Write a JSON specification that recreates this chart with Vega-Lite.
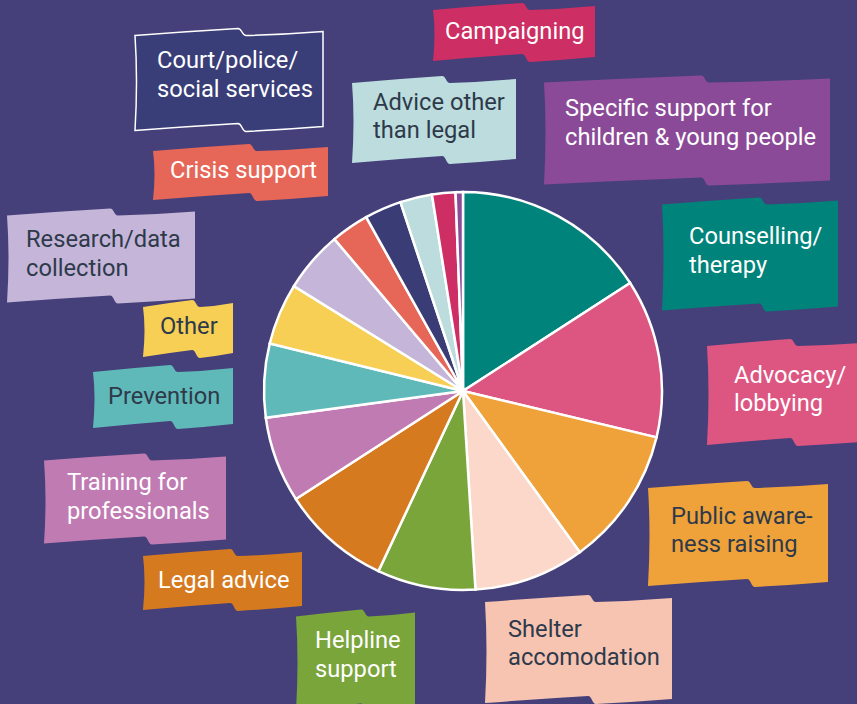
{
  "$schema": "https://vega.github.io/schema/vega-lite/v6.json",
  "width": 788,
  "height": 626,
  "autosize": {"type": "none"},
  "padding": {"left": 69, "top": 78, "right": 0, "bottom": 0},
  "background": "#45407a",
  "config": {"view": {"stroke": null}},
  "data": {
    "values": [
      {"order": 1, "service": "Counselling/therapy", "label": "Counselling/\ntherapy", "value": 15.9},
      {"order": 2, "service": "Advocacy/lobbying", "label": "Advocacy/\nlobbying", "value": 12.9},
      {"order": 3, "service": "Public awareness raising", "label": "Public aware-\nness raising", "value": 11.3},
      {"order": 4, "service": "Shelter accomodation", "label": "Shelter\naccomodation", "value": 9.0},
      {"order": 5, "service": "Helpline support", "label": "Helpline\nsupport", "value": 8.0},
      {"order": 6, "service": "Legal advice", "label": "Legal advice", "value": 8.9},
      {"order": 7, "service": "Training for professionals", "label": "Training for\nprofessionals", "value": 7.0},
      {"order": 8, "service": "Prevention", "label": "Prevention", "value": 6.0},
      {"order": 9, "service": "Other", "label": "Other", "value": 5.0},
      {"order": 10, "service": "Research/data collection", "label": "Research/data\ncollection", "value": 5.0},
      {"order": 11, "service": "Crisis support", "label": "Crisis support", "value": 3.1},
      {"order": 12, "service": "Court/police/social services", "label": "Court/police/\nsocial services", "value": 3.0},
      {"order": 13, "service": "Advice other than legal", "label": "Advice other\nthan legal", "value": 2.6},
      {"order": 14, "service": "Campaigning", "label": "Campaigning", "value": 1.9},
      {"order": 15, "service": "Specific support for children & young people", "label": "Specific support for\nchildren & young people", "value": 0.6}
    ]
  },
  "layer": [
    {
      "mark": {"type": "arc", "radius": 199, "stroke": "#ffffff", "strokeWidth": 2.5},
      "encoding": {
        "theta": {"field": "value", "type": "quantitative", "stack": true},
        "order": {"field": "order", "type": "quantitative", "sort": "ascending"},
        "color": {
          "field": "service", "type": "nominal", "legend": null,
          "scale": {
            "domain": ["Counselling/therapy", "Advocacy/lobbying", "Public awareness raising", "Shelter accomodation", "Helpline support", "Legal advice", "Training for professionals", "Prevention", "Other", "Research/data collection", "Crisis support", "Court/police/social services", "Advice other than legal", "Campaigning", "Specific support for children & young people"],
            "range": ["#00837a", "#dd5682", "#f0a23a", "#fcd8cb", "#7aa53b", "#d67a1f", "#c07bb2", "#60b9b9", "#f7cf55", "#c4b5d9", "#e66757", "#3a3d75", "#bcdcdd", "#cd2e63", "#8c4b98"]
          }
        }
      }
    },
    {
      "mark": {"type": "point", "filled": true, "opacity": 1, "size": 4, "strokeWidth": 1.5},
      "encoding": {
        "x": {"field": "order", "type": "quantitative", "axis": null,
          "scale": {"zero": false, "nice": false, "domain": [1,2,3,4,5,6,7,8,9,10,11,12,13,14,15],
            "range": [620, 665, 602, 439, 246, 89, -2, 39, 91, -43, 101, 88, 304, 376, 496]}},
        "y": {"field": "order", "type": "quantitative", "axis": null,
          "scale": {"zero": false, "nice": false, "domain": [1,2,3,4,5,6,7,8,9,10,11,12,13,14,15],
            "range": [173.5, 312, 453, 566, 577.5, 503, 419.5, 319, 249, 176.5, 93, -2.5, 39, -46, 45.5]}},
        "shape": {
          "field": "service", "type": "nominal", "legend": null,
          "scale": {
            "domain": ["Counselling/therapy", "Advocacy/lobbying", "Public awareness raising", "Shelter accomodation", "Helpline support", "Legal advice", "Training for professionals", "Prevention", "Other", "Research/data collection", "Crisis support", "Court/police/social services", "Advice other than legal", "Campaigning", "Specific support for children & young people"],
            "range": [
              "M-27,-47 Q22,-51 70,-54 C74,-54 74,-47 78,-47 Q114,-48 149,-51 L149,55 Q114,58 78,60 C74,60 74,52 70,52 Q22,55 -27,59 Q-24,3 -27,-47 Z",
              "M-27,-44 Q15,-48 56,-51 C60,-51 60,-44 64,-44 Q102,-45 140,-48 L140,51 Q102,54 64,56 C60,56 60,48 56,48 Q15,51 -27,55 Q-24,3 -27,-44 Z",
              "M-23,-43 Q27,-47 76,-50 C80,-50 80,-43 84,-43 Q121,-44 157,-47 L157,51 Q121,54 84,56 C80,56 80,48 76,48 Q27,51 -23,55 Q-20,3 -23,-43 Z",
              "M-23,-42 Q29,-46 80,-49 C84,-49 84,-42 88,-42 Q126,-43 164,-46 L164,55 Q126,58 88,60 C84,60 84,52 80,52 Q29,55 -23,59 Q-20,6 -23,-42 Z",
              "M-19,-39 Q14,-43 46,-46 C50,-46 50,-39 54,-39 Q77,-40 100,-43 L100,51 Q77,54 54,56 C50,56 50,48 46,48 Q14,51 -19,55 Q-16,5 -19,-39 Z",
              "M-15,-25 Q29,-29 72,-32 C76,-32 76,-25 80,-25 Q112,-26 144,-29 L144,25 Q112,28 80,30 C76,30 76,22 72,22 Q29,25 -15,29 Q-12,-1 -15,-25 Z",
              "M-23,-37 Q27,-41 77,-44 C81,-44 81,-37 85,-37 Q122,-38 159,-41 L159,42 Q122,45 85,47 C81,47 81,39 77,39 Q27,42 -23,46 Q-20,2 -23,-37 Z",
              "M-15,-25 Q24,-29 62,-32 C66,-32 66,-25 70,-25 Q98,-26 125,-29 L125,27 Q98,30 70,32 C66,32 66,24 62,24 Q24,27 -15,31 Q-12,0 -15,-25 Z",
              "M-17,-20 Q8,-24 32,-27 C36,-27 36,-20 40,-20 Q57,-21 73,-24 L73,26 Q57,29 40,31 C36,31 36,23 32,23 Q8,26 -17,30 Q-14,2 -17,-20 Z",
              "M-19,-39 Q33,-43 84,-46 C88,-46 88,-39 92,-39 Q131,-40 169,-43 L169,44 Q131,47 92,49 C88,49 88,41 84,41 Q33,44 -19,48 Q-16,2 -19,-39 Z",
              "M-17,-20 Q31,-24 79,-27 C83,-27 83,-20 87,-20 Q123,-21 158,-24 L158,25 Q123,28 87,30 C83,30 83,22 79,22 Q31,25 -17,29 Q-14,2 -17,-20 Z",
              "M-22,-40 Q30,-44 81,-47 C85,-47 85,-40 89,-40 Q128,-41 166,-44 L166,51 Q128,54 89,56 C85,56 85,48 81,48 Q30,51 -22,55 Q-19,5 -22,-40 Z",
              "M-21,-34 Q24,-38 69,-41 C73,-41 73,-34 77,-34 Q110,-35 143,-38 L143,42 Q110,45 77,47 C73,47 73,39 69,39 Q24,42 -21,46 Q-18,3 -21,-34 Z",
              "M-12,-22 Q33,-26 77,-29 C81,-29 81,-22 85,-22 Q118,-23 150,-26 L150,25 Q118,28 85,30 C81,30 81,22 77,22 Q33,25 -12,29 Q-9,1 -12,-22 Z",
              "M-21,-41 Q58,-45 136,-48 C140,-48 140,-41 144,-41 Q205,-42 265,-45 L265,57 Q205,60 144,62 C140,62 140,54 136,54 Q58,57 -21,61 Q-18,7 -21,-41 Z"
            ]
          }
        },
        "fill": {
          "field": "service", "type": "nominal", "legend": null,
          "scale": {
            "domain": ["Counselling/therapy", "Advocacy/lobbying", "Public awareness raising", "Shelter accomodation", "Helpline support", "Legal advice", "Training for professionals", "Prevention", "Other", "Research/data collection", "Crisis support", "Court/police/social services", "Advice other than legal", "Campaigning", "Specific support for children & young people"],
            "range": ["#00837a", "#dd5682", "#f0a23a", "#f7c4b2", "#7aa53b", "#d67a1f", "#c07bb2", "#60b9b9", "#f7cf55", "#c4b5d9", "#e66757", "#3a3e78", "#bcdcdd", "#cd2e63", "#8b4a97"]
          }
        },
        "stroke": {"condition": {"test": "datum.order === 12", "value": "#ffffff"}, "value": "transparent"}
      }
    },
    {
      "transform": [{"filter": "indexof([6,8,9,11,14], datum.order) >= 0"}],
      "mark": {"type": "text", "align": "left", "baseline": "middle", "font": "Roboto", "fontSize": 23.7, "lineHeight": 28.5, "lineBreak": "\n"},
      "encoding": {
        "x": {"field": "order", "type": "quantitative", "axis": null,
          "scale": {"zero": false, "nice": false, "domain": [1,2,3,4,5,6,7,8,9,10,11,12,13,14,15],
            "range": [620, 665, 602, 439, 246, 89, -2, 39, 91, -43, 101, 88, 304, 376, 496]}},
        "y": {"field": "order", "type": "quantitative", "axis": null,
          "scale": {"zero": false, "nice": false, "domain": [1,2,3,4,5,6,7,8,9,10,11,12,13,14,15],
            "range": [173.5, 312, 453, 566, 577.5, 503, 419.5, 319, 249, 176.5, 93, -2.5, 39, -46, 45.5]}},
        "text": {"field": "label", "type": "nominal"},
        "color": {"condition": {"test": "indexof([3,4,8,9,10,13], datum.order) >= 0", "value": "#2e3a4a"}, "value": "#ffffff"}
      }
    },
    {
      "transform": [{"filter": "indexof([6,8,9,11,14], datum.order) < 0"}],
      "mark": {"type": "text", "align": "left", "baseline": "middle", "dy": -14.25, "font": "Roboto", "fontSize": 23.7, "lineHeight": 28.5, "lineBreak": "\n"},
      "encoding": {
        "x": {"field": "order", "type": "quantitative", "axis": null,
          "scale": {"zero": false, "nice": false, "domain": [1,2,3,4,5,6,7,8,9,10,11,12,13,14,15],
            "range": [620, 665, 602, 439, 246, 89, -2, 39, 91, -43, 101, 88, 304, 376, 496]}},
        "y": {"field": "order", "type": "quantitative", "axis": null,
          "scale": {"zero": false, "nice": false, "domain": [1,2,3,4,5,6,7,8,9,10,11,12,13,14,15],
            "range": [173.5, 312, 453, 566, 577.5, 503, 419.5, 319, 249, 176.5, 93, -2.5, 39, -46, 45.5]}},
        "text": {"field": "label", "type": "nominal"},
        "color": {"condition": {"test": "indexof([3,4,8,9,10,13], datum.order) >= 0", "value": "#2e3a4a"}, "value": "#ffffff"}
      }
    }
  ]
}
